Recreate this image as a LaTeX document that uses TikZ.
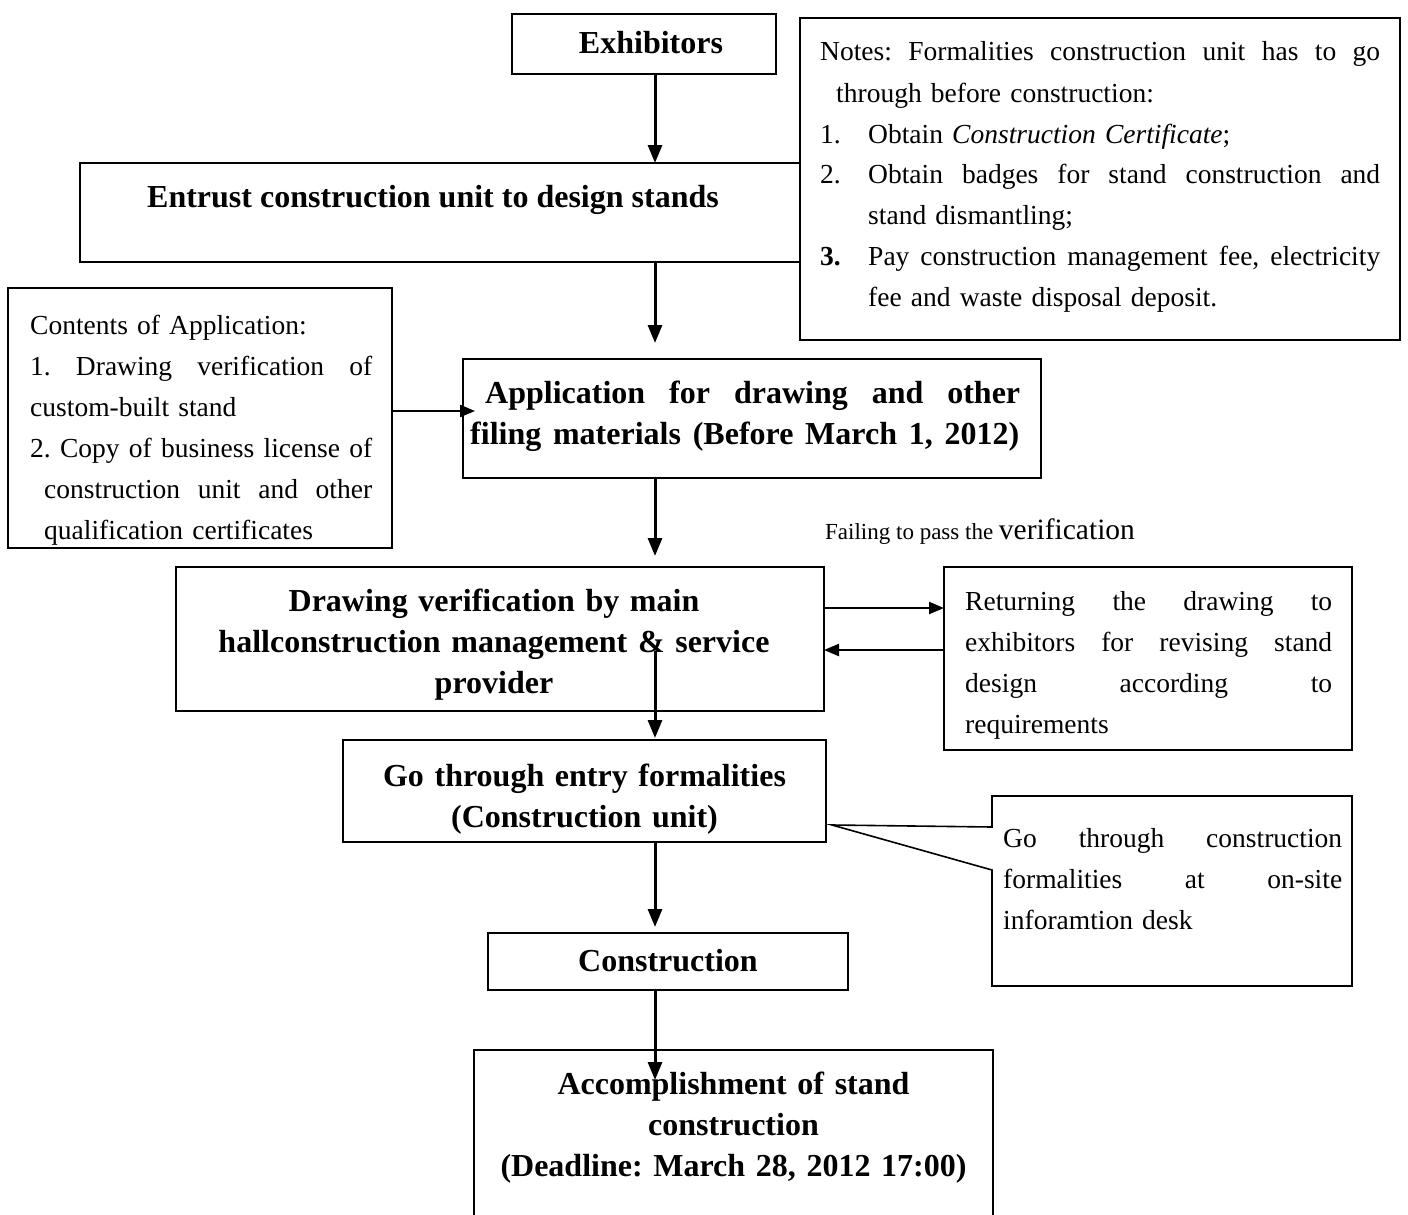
\documentclass[tikz,border=0pt]{standalone}
\usepackage{fontspec}
\setmainfont{Liberation Serif}
\usetikzlibrary{arrows.meta}
\frenchspacing
\newcommand\rgf{\fontsize{27.5pt}{41pt}\selectfont\frenchspacing}
\newcommand\bdf{\fontsize{32pt}{41pt}\selectfont\bfseries\frenchspacing}
\newcommand\jst[2]{\makebox[#1][s]{\spaceskip=0.25em plus 1fil\relax\xspaceskip=0.25em plus 1fil\relax #2}}
\begin{document}
\begin{tikzpicture}[x=1pt,y=-1pt,
  box/.style={draw, line width=1.6pt, inner sep=0pt, outer sep=0pt, fill=white},
  txt/.style={inner sep=0pt, anchor=base west, align=left, font=\rgf},
  ctxt/.style={inner sep=0pt, anchor=base, align=center, font=\bdf},
  arr/.style={line width=3pt, -{Triangle[length=18pt,width=14pt]}},
  harr/.style={line width=2.2pt, -{Triangle[length=15pt,width=12pt]}},
  ln/.style={line width=1.6pt}]
\useasboundingbox (0,0) rectangle (1408,1215);
\clip (0,0) rectangle (1408,1215);
\coordinate (ax) at (655,0);
% boxes
\node[box, minimum width=264pt, minimum height=60pt] (exh) at (644,44) {};
\node[box, minimum width=740pt, minimum height=99pt] (ent) at (450,212.5) {};
\node[box, minimum width=600pt, minimum height=322pt] (notes) at (1100,179) {};
\node[box, minimum width=384pt, minimum height=260pt] (cont) at (200,418) {};
\node[box, minimum width=578pt, minimum height=119pt] (app) at (752,418.5) {};
\node[box, minimum width=648pt, minimum height=144pt] (dv) at (500,639) {};
\node[box, minimum width=408pt, minimum height=183pt] (ret) at (1148,658.5) {};
\node[box, minimum width=483pt, minimum height=102pt] (go) at (584.5,791) {};
\node[box, minimum width=360pt, minimum height=57pt] (cons) at (668,961.5) {};
\node[box, minimum width=519pt, minimum height=190pt] (acc) at (733.5,1145) {};
\node[inner sep=0pt, outer sep=0pt, minimum width=360pt, minimum height=190pt] (co) at (1172,891) {};
\coordinate (tip) at (832,825);
\draw[ln, fill=white] (tip) -- ([yshift=-31pt]co.north west) -- (co.north west) -- (co.north east)
  -- (co.south east) -- (co.south west) -- ([yshift=-74pt]co.north west) -- cycle;
% texts
\node[ctxt] (exhT) at (651,54) {Exhibitors};
\node[ctxt] (entT) at (433,207) {Entrust construction unit to design stands};
\node[txt, text width=560pt] (notesT) at (820,61) {%
\jst{560pt}{Notes: Formalities construction unit has to go}\\
\hspace*{16pt}through before construction:\\
\makebox[48pt][l]{1.}Obtain \textit{Construction Certificate};\\
\makebox[48pt][l]{2.}\jst{512pt}{Obtain badges for stand construction and}\\
\hspace*{48pt}stand dismantling;\\
\makebox[48pt][l]{\textbf{3.}}\jst{512pt}{Pay construction management fee, electricity}\\
\hspace*{48pt}fee and waste disposal deposit.};
\node[txt, text width=342pt] (contT) at (30,334) {%
Contents of Application:\\
\jst{342pt}{1. Drawing verification of}\\
custom-built stand\\
\jst{342pt}{2. Copy of business license of}\\
\hspace*{14pt}\jst{328pt}{construction unit and other}\\
\hspace*{14pt}qualification certificates};
\node[txt, font=\bdf, text width=555pt] (appT) at (470,403) {%
\hspace*{15pt}\jst{535pt}{Application for drawing and other}\\
\jst{549pt}{filing materials (Before March 1, 2012)}};
\node[ctxt, text width=640pt] (dvT) at (494,611) {Drawing verification by main\\
hallconstruction management \& service\\ provider};
\node[txt, text width=367pt] (retT) at (965,610) {%
\jst{367pt}{Returning the drawing to}\\
\jst{367pt}{exhibitors for revising stand}\\
\jst{367pt}{design according to}\\
requirements};
\node[ctxt, text width=480pt] (goT) at (584.5,786) {Go through entry formalities\\ (Construction unit)};
\node[ctxt] (consT) at (668,971) {Construction};
\node[ctxt, text width=519pt] (accT) at (733.5,1094) {Accomplishment of stand\\ construction\\ (Deadline: March 28, 2012 17:00)};
\node[txt, text width=339pt] (coT) at (1003,847) {%
\jst{339pt}{Go through construction}\\
\jst{339pt}{formalities at on-site}\\
inforamtion desk};
\node[txt] (fail) at (825,539) {{\fontsize{23pt}{23pt}\selectfont Failing to pass the }{\fontsize{29.5pt}{30pt}\selectfont verification}};
% connectors
\path (dv.south -| ax) ++(0,-60) coordinate (dvs);
\draw[arr] (exh.south -| ax) -- (ent.north -| ax);
\draw[arr, shorten >=16pt] (ent.south -| ax) -- (app.north -| ax);
\draw[arr, shorten >=11pt] (app.south -| ax) -- (dv.north -| ax);
\draw[arr, shorten >=2pt] (dvs) -- (go.north -| ax);
\draw[arr, shorten >=6pt] (go.south -| ax) -- (cons.north -| ax);
\draw[arr, shorten >=-30pt] (cons.south -| ax) -- (acc.north -| ax);
\draw[harr, shorten >=-12pt] (cont.east |- 0,411) -- (app.west |- 0,411);
\draw[harr] (dv.east |- 0,608) -- (ret.west |- 0,608);
\draw[harr] (ret.west |- 0,650) -- (dv.east |- 0,650);
\end{tikzpicture}
\end{document}
